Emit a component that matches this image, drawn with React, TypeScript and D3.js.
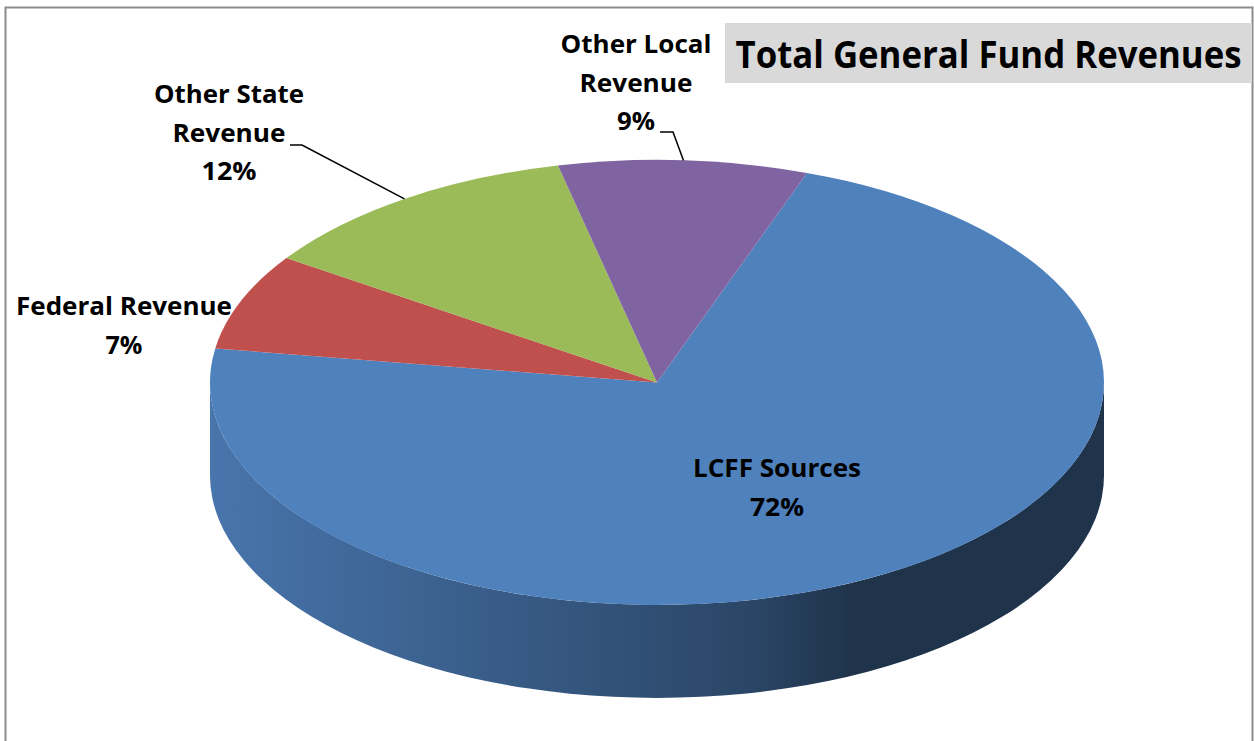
import { pie } from 'd3';

// chart data
const categories = ['LCFF Sources', 'Federal Revenue', 'Other State Revenue', 'Other Local Revenue'];
const values = [72, 7, 12, 9];
const colors = ['#4f81bd', '#c0504d', '#9bbb59', '#8064a2'];
const labelLines = [['LCFF Sources'], ['Federal Revenue'], ['Other State', 'Revenue'], ['Other Local', 'Revenue']];
const title = 'Total General Fund Revenues';

// layout
const W = 1254;
const H = 741;
const CX = 657;
const CY = 382.5;
const RX = 447;
const RY = 222.5;
const DEPTH = 93;
const START = (19.6 * Math.PI) / 180;
const LINE_H = 38.5;
const FONT = '"Open Sans", "Liberation Sans", sans-serif';

// label anchor (centre x, first baseline) and leader elbow per slice
const labelPos = [
  { x: 777, y: 477, leader: null },
  { x: 124, y: 315, leader: null },
  { x: 229, y: 103, leader: { x0: 290, x1: 302, y: 145 } },
  { x: 636, y: 53, leader: { x0: 660, x1: 673, y: 132 } },
];
// rendered widths of each text line, used to squeeze the fallback font
const lineWidths: Record<string, number> = {
  'LCFF Sources': 168,
  'Federal Revenue': 216,
  'Other State': 150,
  'Other Local': 151,
  Revenue: 113,
  '72%': 54,
  '7%': 37,
  '12%': 55,
  '9%': 38,
};

const pt = (a: number, dy = 0) => [CX + RX * Math.sin(a), CY - RY * Math.cos(a) + dy];

const topPath = (a0: number, a1: number) => {
  const [x0, y0] = pt(a0);
  const [x1, y1] = pt(a1);
  const large = a1 - a0 > Math.PI ? 1 : 0;
  return `M${CX},${CY}L${x0},${y0}A${RX},${RY} 0 ${large} 1 ${x1},${y1}Z`;
};

const sidePath = (lo: number, hi: number) => {
  const [x0, y0] = pt(lo);
  const [x1, y1] = pt(hi);
  const [bx1, by1] = pt(hi, DEPTH);
  const [bx0, by0] = pt(lo, DEPTH);
  return `M${x0},${y0}A${RX},${RY} 0 0 1 ${x1},${y1}L${bx1},${by1}A${RX},${RY} 0 0 0 ${bx0},${by0}Z`;
};

const darken = (hex: string, k: number) => {
  const f = Math.pow(0.7, k);
  const n = parseInt(hex.slice(1), 16);
  const r = Math.round(((n >> 16) & 255) * f);
  const g = Math.round(((n >> 8) & 255) * f);
  const b = Math.round((n & 255) * f);
  return `rgb(${r},${g},${b})`;
};

const gradStops = [
  { o: 0, k: 0.27 },
  { o: 0.35, k: 1.0 },
  { o: 0.6, k: 1.7 },
  { o: 0.72, k: 2.6 },
  { o: 1, k: 2.6 },
];

const App = () => {
  const arcs = pie<number>()
    .sort(null)
    .startAngle(START)
    .endAngle(START + 2 * Math.PI)(values);

  // visible (front) pieces of the side wall
  const sides: { i: number; lo: number; hi: number }[] = [];
  arcs.forEach((a, i) => {
    [0, 2 * Math.PI].forEach((k) => {
      const lo = Math.max(a.startAngle, Math.PI / 2 + k);
      const hi = Math.min(a.endAngle, (3 * Math.PI) / 2 + k);
      if (hi > lo) sides.push({ i, lo, hi });
    });
  });

  return (
    <div style={{ position: 'absolute', left: 0, top: 0 }}>
      <svg width={W} height={H} style={{ display: 'block', background: '#fff' }}>
        <defs>
          {colors.map((c, i) => (
            <linearGradient
              key={i}
              id={`side-${i}`}
              gradientUnits="userSpaceOnUse"
              x1={CX - RX}
              x2={CX + RX}
              y1={0}
              y2={0}
            >
              {gradStops.map((s, j) => (
                <stop key={j} offset={s.o} stopColor={darken(c, s.k)} />
              ))}
            </linearGradient>
          ))}
        </defs>

        <rect x={5.5} y={7.5} width={1247} height={800} fill="#fff" stroke="#8c8c8c" strokeWidth={2} />

        {/* side wall */}
        {sides.map((s, j) => (
          <path key={`s${j}`} d={sidePath(s.lo, s.hi)} fill={`url(#side-${s.i})`} />
        ))}

        {/* top face */}
        {arcs.map((a, i) => (
          <path key={`t${i}`} d={topPath(a.startAngle, a.endAngle)} fill={colors[i]} />
        ))}

        {/* leader lines */}
        {arcs.map((a, i) => {
          const l = labelPos[i].leader;
          if (!l) return null;
          const [ex, ey] = pt((a.startAngle + a.endAngle) / 2);
          return (
            <polyline
              key={`l${i}`}
              points={`${l.x0},${l.y} ${l.x1},${l.y} ${ex},${ey}`}
              fill="none"
              stroke="#000"
              strokeWidth={1.5}
            />
          );
        })}

        {/* data labels */}
        {categories.map((c, i) => {
          const lines = [...labelLines[i], `${values[i]}%`];
          return (
            <g key={c} fontFamily={FONT} fontWeight="bold" fontSize={25} fill="#000" textAnchor="middle">
              {lines.map((t, j) => (
                <text
                  key={j}
                  x={labelPos[i].x}
                  y={labelPos[i].y + j * LINE_H}
                  textLength={lineWidths[t]}
                  lengthAdjust="spacingAndGlyphs"
                >
                  {t}
                </text>
              ))}
            </g>
          );
        })}

        {/* title box */}
        <rect x={725} y={23} width={527} height={60} fill="#d9d9d9" />
        <text
          x={988.5}
          y={68}
          textAnchor="middle"
          fontFamily={FONT}
          fontWeight="bold"
          fontSize={37}
          textLength={506}
          lengthAdjust="spacingAndGlyphs"
          fill="#000"
        >
          {title}
        </text>
      </svg>
    </div>
  );
};

export default App;
